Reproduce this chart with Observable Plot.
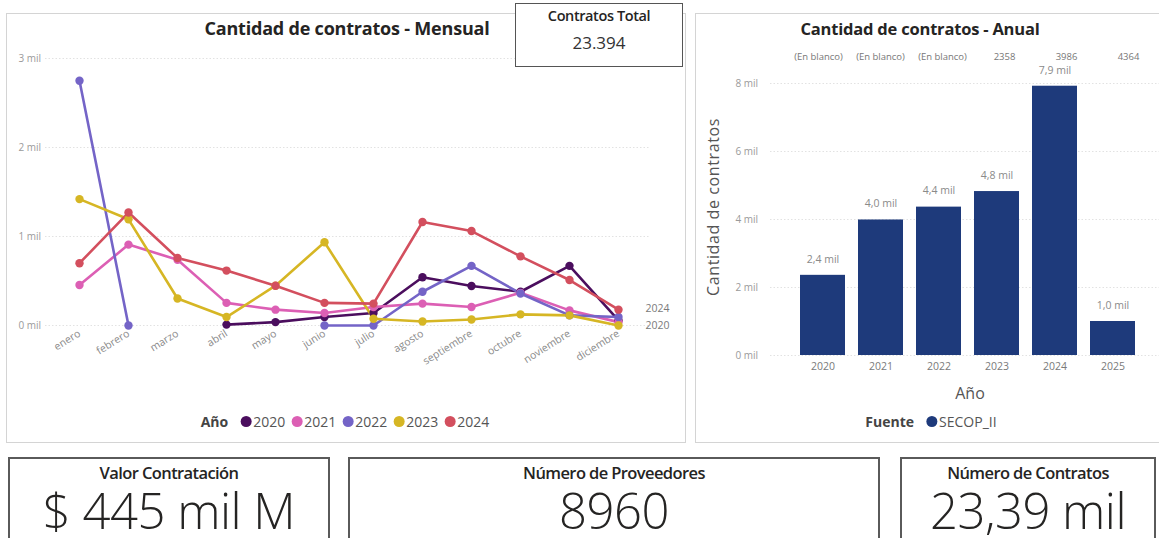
<!DOCTYPE html>
<html><head><meta charset="utf-8">
<script src="https://cdn.jsdelivr.net/npm/d3@7"></script>
<script src="https://cdn.jsdelivr.net/npm/@observablehq/plot@0.6"></script>
<style>
body{margin:0;width:1159px;height:538px;overflow:hidden;background:#fff;font-family:"Open Sans","Noto Sans",sans-serif;position:relative;color:#252423;}
.panel{position:absolute;border:1px solid #d4d4d4;background:#fff;}
.abs{position:absolute;}
.ctr{position:absolute;transform:translateX(-50%);white-space:nowrap;}
.title{font-weight:700;color:#252423;letter-spacing:-0.2px;}
.kpi{position:absolute;border:2px solid #5a5a5a;background:#fff;top:457px;height:100px;box-sizing:border-box;}
.kpi .t{position:absolute;left:0;right:0;top:4px;line-height:20px;text-align:center;font-weight:600;font-size:16.5px;letter-spacing:-0.6px;color:#252423;}
.kpi .v{position:absolute;left:0;right:0;top:32px;line-height:38px;text-align:center;font-weight:300;font-size:49px;letter-spacing:-0.5px;color:#252423;}
.leg{font-size:14px;color:#555;display:flex;align-items:center;white-space:nowrap;}
.leg b{color:#444;margin-right:6px;font-weight:700;}
.leg .sw{display:inline-block;width:11px;height:11px;border-radius:50%;margin:0 2px 0 6px;}
#left svg,#right svg,#top svg{max-width:none !important;display:block;}
</style></head><body>
<div class="panel" style="left:6px;top:13px;width:678px;height:428px;"></div>
<div class="panel" style="left:695px;top:13px;width:470px;height:428px;"></div>
<div id="left" class="abs" style="left:8px;top:40px;width:677px;height:360px;"></div>
<div id="right" class="abs" style="left:695px;top:40px;width:464px;height:360px;"></div>
<div id="top" class="abs" style="left:695px;top:46px;width:464px;height:20px;"></div>
<div class="ctr title" style="left:347px;top:16px;font-size:18px;">Cantidad de contratos - Mensual</div>
<div class="ctr title" style="left:920px;top:17px;font-size:16.5px;">Cantidad de contratos - Anual</div>
<div class="abs" style="left:515px;top:3px;width:166px;height:62px;border:1.5px solid #555;background:#fff;">
  <div style="position:absolute;left:0;right:0;top:2px;text-align:center;font-weight:600;font-size:14.5px;letter-spacing:-0.4px;">Contratos Total</div>
  <div id="tot" style="position:absolute;left:0;right:0;top:27px;text-align:center;font-size:17px;color:#333;"></div>
</div>
<div class="abs" style="left:713px;top:207px;transform:translate(-50%,-50%) rotate(-90deg);font-size:16px;letter-spacing:0.6px;color:#555;white-space:nowrap;">Cantidad de contratos</div>
<div class="ctr" style="left:970px;top:382px;font-size:16px;color:#555;">Año</div>
<div id="legL" class="leg ctr" style="left:345px;top:412px;"></div>
<div id="legR" class="leg ctr" style="left:931px;top:412px;"></div>
<div id="kpis"></div>
<script>
// ---- data ----
const months = ["enero","febrero","marzo","abril","mayo","junio","julio","agosto","septiembre","octubre","noviembre","diciembre"];
const years = ["2020","2021","2022","2023","2024"];
const yearColors = ["#4b0e5e","#dc5fb4","#7464c7","#d6b624","#d34f5e"];
const v2020 = [null,null,null,10,38,95,140,542,443,379,670,57];
const v2021 = [455,909,739,254,178,140,208,246,208,367,170,38];
const v2022 = [2750,0,null,null,null,0,0,379,670,360,114,95];
const v2023 = [1420,1193,303,95,447,936,76,45,68,125,114,0];
const v2024 = [700,1269,758,617,447,254,246,1163,1061,777,511,178];
const monthlyTicks = [0,1000,2000,3000];
const endLabelTop = "2024";
const endLabelBottom = "2020";

const annualYears = ["2020","2021","2022","2023","2024","2025"];
const annualValues = [2358,3986,4364,4822,7920,1000];
const annualTicks = [0,2000,4000,6000,8000];
const topRowLabels = ["(En blanco)","(En blanco)","(En blanco)","2358","3986","4364"];
const barColor = "#1e3a7b";
const sourceName = "SECOP_II";

const totalContracts = "23.394";
const kpiTitles = ["Valor Contratación","Número de Proveedores","Número de Contratos"];
const kpiValues = ["$ 445 mil M","8960","23,39 mil"];

// ---- build ----
const font = '"Open Sans","Noto Sans",sans-serif';
const series = [v2020,v2021,v2022,v2023,v2024];
const rows = years.flatMap((yr,i)=>months.map((m,j)=>({year:yr,month:m,value:series[i][j]})));
const milFmt = d => `${d/1000} mil`;
const lastOf = yr => rows.filter(d=>d.month==="diciembre" && d.year===yr);

const lineChart = Plot.plot({
  width:677, height:360, marginTop:18, marginBottom:75, marginLeft:67, marginRight:64,
  style:{fontFamily:font, fontSize:"10px", background:"transparent", overflow:"visible", maxWidth:"none"},
  x:{type:"point", domain:months, padding:0, label:null},
  y:{domain:[0,3000], label:null, axis:null},
  color:{domain:years, range:yearColors},
  marks:[
    Plot.ruleY(monthlyTicks,{stroke:"#e2e2e2", strokeDasharray:"1.5,2", insetLeft:-30, insetRight:-28}),
    Plot.text(monthlyTicks,{y:d=>d, text:milFmt, frameAnchor:"left", dx:-57, textAnchor:"start", fill:"#9a9a9a"}),
    Plot.axisX({tickRotate:-32, tickSize:0, tickPadding:7, fill:"#8a8a8a", label:null, fontSize:10.5}),
    Plot.line(rows,{x:"month", y:"value", z:"year", stroke:"year", strokeWidth:2.6}),
    Plot.dot(rows.filter(d=>d.value!=null),{x:"month", y:"value", fill:"year", r:4.2}),
    Plot.text(lastOf(endLabelTop),{x:"month", y:"value", text:"year", dx:27, dy:-1, textAnchor:"start", fill:"#7a7a7a", fontSize:10.5}),
    Plot.text(lastOf(endLabelBottom),{x:"month", y:"value", text:"year", dx:27, dy:5, textAnchor:"start", fill:"#7a7a7a", fontSize:10.5})
  ]
});
document.getElementById("left").appendChild(lineChart);

const annual = annualYears.map((y,i)=>({year:y, value:annualValues[i]}));
const labFmt = v => (v/1000).toFixed(1).replace(".",",")+" mil";
const barChart = Plot.plot({
  width:464, height:360, marginTop:43, marginBottom:45, marginLeft:90, marginRight:9,
  style:{fontFamily:font, fontSize:"10px", background:"transparent", overflow:"visible", maxWidth:"none"},
  x:{domain:annualYears, padding:0.23, label:null},
  y:{domain:[0,8000], label:null, axis:null},
  marks:[
    Plot.ruleY(annualTicks,{stroke:"#e2e2e2", strokeDasharray:"1.5,2", insetLeft:-15, insetRight:-10}),
    Plot.text(annualTicks,{y:d=>d, text:milFmt, frameAnchor:"left", dx:-50, textAnchor:"start", fill:"#9a9a9a"}),
    Plot.barY(annual,{x:"year", y:"value", fill:barColor}),
    Plot.text(annual,{x:"year", y:"value", text:d=>labFmt(d.value), dy:-16, fill:"#8a8a8a", fontSize:10.5}),
    Plot.axisX({tickSize:0, tickPadding:7, fill:"#7a7a7a", label:null, fontSize:10.5})
  ]
});
document.getElementById("right").appendChild(barChart);

const topRow = Plot.plot({
  width:464, height:20, marginTop:0, marginBottom:0, marginLeft:121, marginRight:30,
  style:{fontFamily:font, fontSize:"9.5px", background:"transparent", overflow:"visible", maxWidth:"none"},
  x:{type:"point", domain:annualYears, padding:0, axis:null},
  marks:[
    Plot.text(annualYears.map((y,i)=>({year:y, label:topRowLabels[i]})),{x:"year", text:"label", fill:"#777"})
  ]
});
document.getElementById("top").appendChild(topRow);

document.getElementById("tot").textContent = totalContracts;

document.getElementById("legL").innerHTML = "<b>Año</b>" + years.map((y,i)=>`<span class="sw" style="background:${yearColors[i]}"></span>${y}`).join("");
document.getElementById("legR").innerHTML = `<b>Fuente</b><span class="sw" style="background:${barColor}"></span>${sourceName}`;

const boxes = [[8,322],[348,532],[900,256]];
document.getElementById("kpis").innerHTML = kpiTitles.map((t,i)=>
  `<div class="kpi" style="left:${boxes[i][0]}px;width:${boxes[i][1]}px;"><div class="t">${t}</div><div class="v">${kpiValues[i]}</div></div>`).join("");
</script>
</body></html>
